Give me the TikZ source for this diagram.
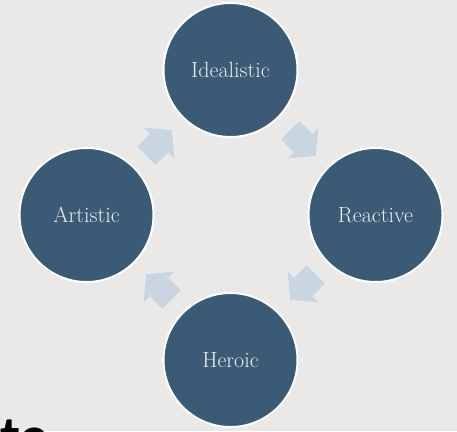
\documentclass[tikz,border=0pt]{standalone}
\usepackage{fontspec}
\newfontfamily\titlefont{Carlito}
\definecolor{bgc}{HTML}{EBE9E8}
\definecolor{circfill}{HTML}{3A5A75}
\definecolor{arrfill}{HTML}{C9D6E2}
\definecolor{txtc}{HTML}{ECECEC}
\begin{document}
\begin{tikzpicture}[x=1pt,y=-1pt,
  stage/.style={circle, fill=circfill, draw=white, line width=2pt,
    minimum size=134pt, inner sep=0pt, text=txtc,
    font=\fontsize{22}{26}\selectfont},
  blockarrow/.style={fill=arrfill}]
\clip (0,0) rectangle (457,431);
\fill[bgc] (0,0) rectangle (457,431);
\useasboundingbox (0,0) rectangle (457,431);
% arrows
\foreach \cx/\cy/\ang in {159/143/45, 303/143/-45, 303/287/-135, 159/287/135}{
  \fill[blockarrow, shift={(\cx,\cy)}, rotate=\ang]
    (-18,-13) -- (0,-13) -- (0,-22) -- (18,0) -- (0,22) -- (0,13) -- (-18,13) -- cycle;
}
% circles
\node[stage] (ideal) at (230.5,70) {Idealistic};
\node[stage] (react) at (375.5,215) {Reactive};
\node[stage] (hero) at (230.5,360) {Heroic};
\node[stage] (art) at (86.5,215) {Artistic};
% cropped title text
\node[anchor=base west, inner sep=0pt, font=\titlefont\bfseries\fontsize{58}{62}\selectfont, text=black] (title) at (0,456) {te};
\end{tikzpicture}
\end{document}
